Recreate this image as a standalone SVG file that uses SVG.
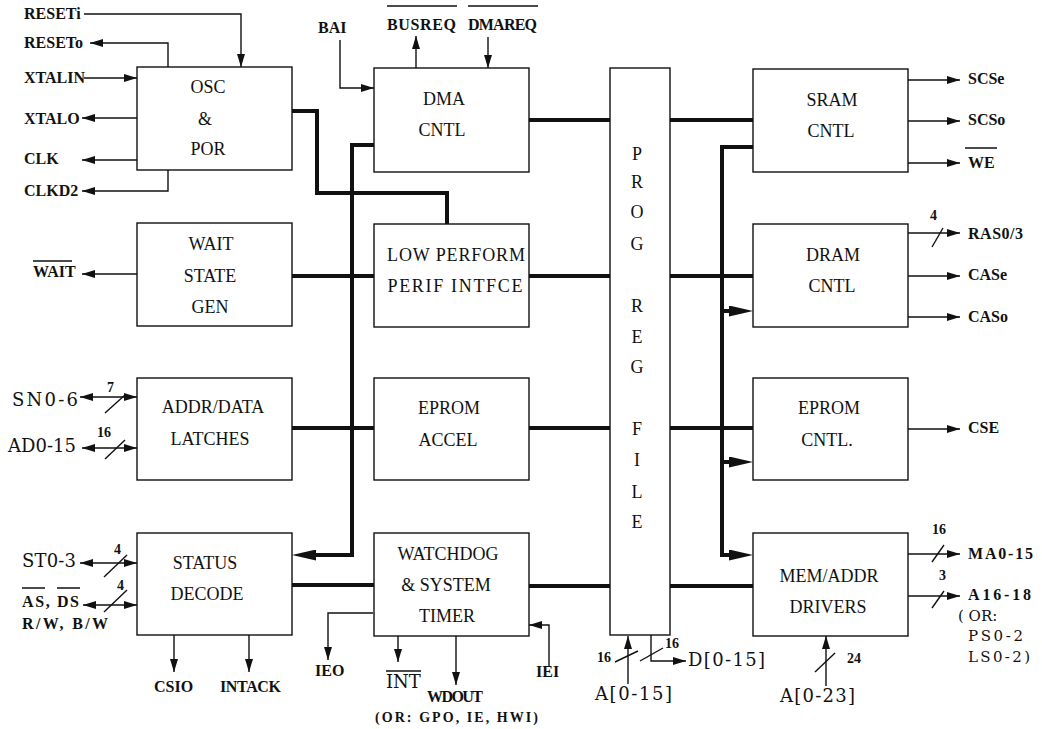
<svg xmlns="http://www.w3.org/2000/svg" width="1042" height="729" viewBox="0 0 1042 729">
<style>
.box{fill:#fff;stroke:#111;stroke-width:1.4}
.t{font-family:"Liberation Serif","Times New Roman",serif;font-size:18px;fill:#111;text-anchor:middle}
.l{font-family:"Liberation Serif","Times New Roman",serif;font-size:16px;font-weight:bold;fill:#111}
.r{font-family:"DejaVu Serif","Liberation Serif",serif;font-size:18px;fill:#111}
.p{font-family:"DejaVu Serif","Liberation Serif",serif;font-size:15px;fill:#111}
.n{font-family:"Liberation Serif","Times New Roman",serif;font-size:14px;font-weight:bold;fill:#111}
.w{fill:none;stroke:#111;stroke-width:1.4}
.k{fill:none;stroke:#111;stroke-width:4}
.ov{stroke:#111;stroke-width:1.3}
</style>
<defs>
<marker id="a" markerUnits="userSpaceOnUse" markerWidth="13" markerHeight="8" refX="13" refY="4" orient="auto-start-reverse"><path d="M0,0L13,4L0,8z" fill="#111"/></marker>
<marker id="b" markerUnits="userSpaceOnUse" markerWidth="24" markerHeight="11" refX="10" refY="5.5" orient="auto"><path d="M0,0L24,5.5L0,11z" fill="#111"/></marker>
</defs>
<rect width="1042" height="729" fill="#fff"/>

<g id="connectors">
<g class="k">
<path d="M292,111H317V193H447V224"/>
<path d="M377,145H352V555H306" marker-end="url(#b)"/>
<path d="M529,120H610M670,120H753"/>
<path d="M292,276H374M529,276H610M670,276H753"/>
<path d="M292,428H374M529,428H610M670,428H753"/>
<path d="M292,585H374M529,586H610M670,586H753"/>
<path d="M757,147H722V555H739" marker-end="url(#b)"/>
<path d="M722,311H739" marker-end="url(#b)"/>
<path d="M722,462H739" marker-end="url(#b)"/>
</g>
<g class="w" marker-end="url(#a)">
<path d="M84,14H241V67"/>
<path d="M168,67V43H90"/>
<path d="M84,78H137"/>
<path d="M137,118H82"/>
<path d="M137,160H82"/>
<path d="M168,170V191H82"/>
<path d="M340,40V88H374"/>
<path d="M416,68V36"/>
<path d="M488,37V68"/>
<path d="M137,274H82"/>
<path d="M80,397H137" marker-start="url(#a)"/>
<path d="M82,448H137" marker-start="url(#a)"/>
<path d="M80,563H137" marker-start="url(#a)"/>
<path d="M83,605H137" marker-start="url(#a)"/>
<path d="M174,635V672"/>
<path d="M249,635V672"/>
<path d="M373,613H328V660"/>
<path d="M398,636V662"/>
<path d="M456,636V685"/>
<path d="M549,667V625H529"/>
<path d="M628,684V636"/>
<path d="M651,635V661H686"/>
<path d="M826,686V636"/>
<path d="M908,80H960"/>
<path d="M908,121H960"/>
<path d="M908,163H960"/>
<path d="M908,233H960"/>
<path d="M908,276H960"/>
<path d="M908,317H960"/>
<path d="M908,429H960"/>
<path d="M908,554H960"/>
<path d="M908,596H960"/>
</g>
<g class="w">
<path d="M105,413L125,395"/>
<path d="M105,459L125,440"/>
<path d="M104,577L127,555"/>
<path d="M104,612L127,590"/>
<path d="M932,247L943,228"/>
<path d="M932,562L944,545"/>
<path d="M932,608L944,591"/>
<path d="M815,672L835,653"/>
<path d="M615,662L638,651"/>
<path d="M640,661L663,648"/>
</g>
</g>

<g id="osc"><rect class="box" x="137" y="67" width="155" height="103"/>
<text class="t" x="208" y="93">OSC</text><text class="t" x="205" y="125">&amp;</text><text class="t" x="208" y="155">POR</text></g>
<g id="dma"><rect class="box" x="374" y="68" width="155" height="104"/>
<text class="t" x="444" y="105">DMA</text><text class="t" x="442" y="136">CNTL</text></g>
<g id="wait"><rect class="box" x="137" y="223" width="155" height="103"/>
<text class="t" x="211" y="250">WAIT</text><text class="t" x="210" y="282">STATE</text><text class="t" x="210" y="313">GEN</text></g>
<g id="lowperf"><rect class="box" x="374" y="224" width="155" height="103"/>
<text class="t" x="456" y="261" textLength="138">LOW PERFORM</text><text class="t" x="455" y="292" textLength="135">PERIF INTFCE</text></g>
<g id="latches"><rect class="box" x="137" y="378" width="155" height="102"/>
<text class="t" x="213" y="413">ADDR/DATA</text><text class="t" x="210" y="445">LATCHES</text></g>
<g id="epromaccel"><rect class="box" x="374" y="378" width="155" height="102"/>
<text class="t" x="449" y="414">EPROM</text><text class="t" x="448" y="446">ACCEL</text></g>
<g id="status"><rect class="box" x="137" y="533" width="155" height="102"/>
<text class="t" x="205" y="569">STATUS</text><text class="t" x="207" y="600">DECODE</text></g>
<g id="watchdog"><rect class="box" x="374" y="533" width="155" height="103"/>
<text class="t" x="448" y="560">WATCHDOG</text><text class="t" x="446" y="591">&amp; SYSTEM</text><text class="t" x="447" y="622">TIMER</text></g>
<g id="progreg"><rect class="box" x="610" y="68" width="60" height="567"/>
<g class="t"><text x="637" y="160">P</text><text x="637" y="188">R</text><text x="637" y="218">O</text><text x="637" y="250">G</text>
<text x="637" y="312">R</text><text x="637" y="343">E</text><text x="637" y="373">G</text>
<text x="637" y="435">F</text><text x="637" y="466">I</text><text x="637" y="498">L</text><text x="637" y="528">E</text></g></g>
<g id="sram"><rect class="box" x="753" y="69" width="155" height="103"/>
<text class="t" x="832" y="106">SRAM</text><text class="t" x="831" y="137">CNTL</text></g>
<g id="dram"><rect class="box" x="753" y="224" width="155" height="103"/>
<text class="t" x="833" y="261">DRAM</text><text class="t" x="832" y="292">CNTL</text></g>
<g id="epromcntl"><rect class="box" x="753" y="378" width="155" height="102"/>
<text class="t" x="829" y="414">EPROM</text><text class="t" x="827" y="446">CNTL.</text></g>
<g id="memaddr"><rect class="box" x="753" y="533" width="155" height="103"/>
<text class="t" x="829" y="582">MEM/ADDR</text><text class="t" x="828" y="613">DRIVERS</text></g>

<g id="labels">
<text class="l" x="24" y="19">RESETi</text>
<text class="l" x="24" y="48">RESETo</text>
<text class="l" x="24" y="83">XTALIN</text>
<text class="l" x="24" y="124">XTALO</text>
<text class="l" x="24" y="164">CLK</text>
<text class="l" x="24" y="196">CLKD2</text>
<text class="l" x="318" y="33">BAI</text>
<text class="l" x="387" y="30" textLength="69">BUSREQ</text>
<text class="l" x="468" y="30" textLength="69">DMAREQ</text>
<text class="l" x="33" y="277">WAIT</text>
<text class="r" x="12" y="406" textLength="66">SN0-6</text>
<text class="r" x="8" y="452" textLength="68">AD0-15</text>
<text class="r" x="22" y="567" textLength="54">ST0-3</text>
<text class="l" x="22" y="607" textLength="57">AS, DS</text>
<text class="l" x="22" y="629" textLength="86">R/W, B/W</text>
<text class="l" x="154" y="692">CSIO</text>
<text class="l" x="220" y="692" textLength="61">INTACK</text>
<text class="l" x="315" y="676">IEO</text>
<text class="r" x="386" y="688">INT</text>
<text class="l" x="427" y="702" textLength="56">WDOUT</text>
<text class="l" x="375" y="722" style="font-size:14px" textLength="163">(OR: GPO, IE, HWI)</text>
<text class="l" x="536" y="677">IEI</text>
<text class="r" x="595" y="700" textLength="77">A[0-15]</text>
<text class="r" x="688" y="666" textLength="77">D[0-15]</text>
<text class="r" x="780" y="702" textLength="75">A[0-23]</text>
<text class="l" x="968" y="84">SCSe</text>
<text class="l" x="968" y="125">SCSo</text>
<text class="l" x="968" y="168">WE</text>
<text class="l" x="968" y="239" textLength="55">RAS0/3</text>
<text class="l" x="968" y="280">CASe</text>
<text class="l" x="968" y="322">CASo</text>
<text class="l" x="968" y="433">CSE</text>
<text class="l" x="968" y="559" textLength="65">MA0-15</text>
<text class="l" x="968" y="600" textLength="63">A16-18</text>
<text class="p" x="958" y="621">( OR:</text>
<text class="p" x="968" y="641" textLength="55">PS0-2</text>
<text class="p" x="968" y="662" textLength="62">LS0-2)</text>
<text class="n" x="107" y="392">7</text>
<text class="n" x="97" y="437">16</text>
<text class="n" x="114" y="554">4</text>
<text class="n" x="117" y="590">4</text>
<text class="n" x="930" y="220">4</text>
<text class="n" x="932" y="534">16</text>
<text class="n" x="939" y="580">3</text>
<text class="n" x="847" y="663">24</text>
<text class="n" x="597" y="662">16</text>
<text class="n" x="665" y="648">16</text>
</g>
<g id="overbars">
<path class="ov" d="M387,6H457M468,6H538M33,261H72M22,588H45M57,588H80M386,671H421M965,148H997"/>
</g>
</svg>
